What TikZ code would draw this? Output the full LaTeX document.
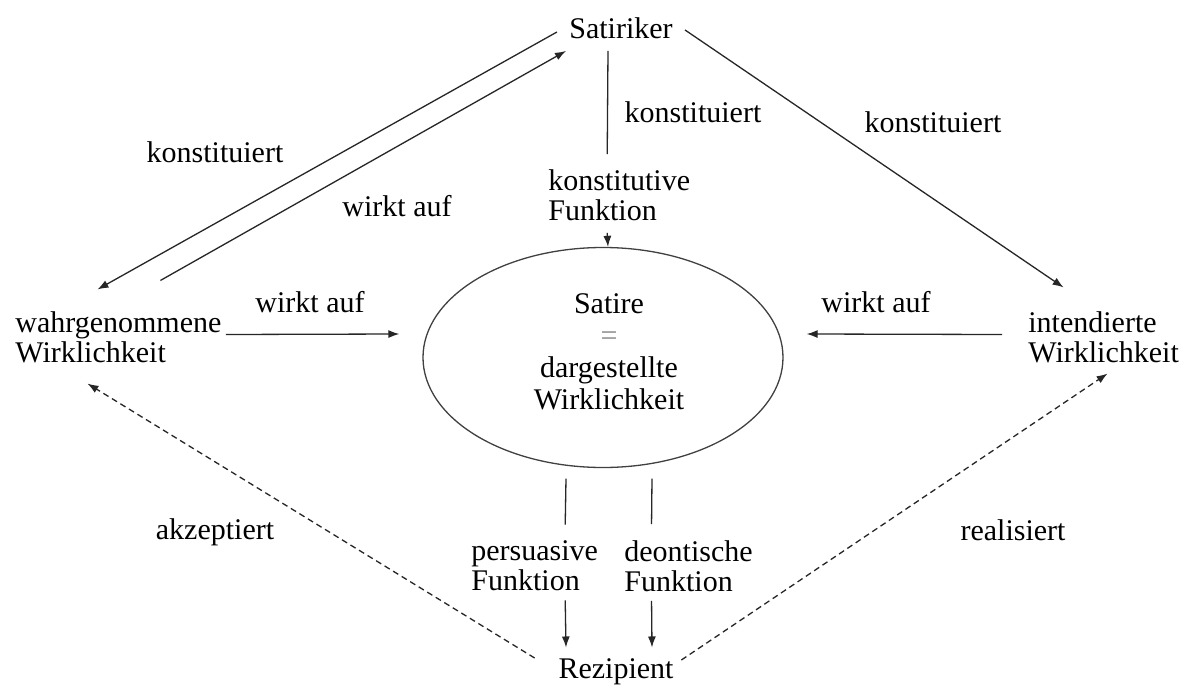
\documentclass[tikz,border=0pt]{standalone}
\usepackage{fontspec}
\setmainfont{Liberation Serif}
\usetikzlibrary{arrows.meta,shapes.geometric,calc}
\begin{document}
\begin{tikzpicture}[x=0.5pt,y=-0.5pt,
  txt/.style={inner sep=0pt, font=\fontsize{15}{15}\selectfont, text=black},
  multi/.style={txt, align=left, anchor=west},
  conn/.style={line width=0.65pt, draw=black!85},
  arr/.style={conn, -{Latex[length=5.5pt,width=4pt]}},
  dsh/.style={arr, dash pattern=on 3pt off 2pt},
  ell/.style={ellipse, draw=black!75, line width=0.65pt, minimum width=180pt, minimum height=110pt, inner sep=0pt}
]
\useasboundingbox[fill=white] (0,0) rectangle (1191,686);

% main nodes
\node[txt] (sat) at (621,28) {Satiriker};
\node[multi] (konfn) at (548,195) {konstitutive\\Funktion};
\node[multi] (wahr) at (15,337.5) {wahrgenommene\\Wirklichkeit};
\node[multi] (int) at (1028,337.5) {intendierte\\Wirklichkeit};
\node[ell] (ell) at (603,357.5) {};
\node[txt, align=center, font=\fontsize{15}{16}\selectfont] (satt) at (609,352) {Satire\\\textcolor{black!45}{=}\\dargestellte\\Wirklichkeit};
\node[multi] (pers) at (471,566) {persuasive\\Funktion};
\node[multi] (deon) at (624,566) {deontische\\Funktion};
\node[txt] (rez) at (616,672) {Rezipient};

% labels
\node[txt] (l1) at (215,152) {konstituiert};
\node[txt] (l2) at (397,206) {wirkt auf};
\node[txt] (l3) at (693,112) {konstituiert};
\node[txt] (l4) at (933,122) {konstituiert};
\node[txt] (l5) at (310,302) {wirkt auf};
\node[txt] (l6) at (876,302) {wirkt auf};
\node[txt] (l7) at (215,532) {akzeptiert};
\node[txt] (l8) at (1013,530) {realisiert};

% connectors
\draw[arr] ($(sat.west)+(-12,4)$) -- ($(wahr.north)+(-21,-22)$);
\draw[arr] ($(wahr.north)+(42,-31)$) -- ($(sat.south west)+(-3,12)$);
\draw[conn] ($(sat.south)+(-13,12)$) -- ($(konfn.north)+(-12,-15)$);
\draw[arr] ($(konfn.south)+(-12,12)$) -- ($(ell.north)+(5,0)$);
\draw[arr] ($(sat.east)+(12,2)$) -- ($(int.north)+(-40,-24)$);
\draw[arr] ($(wahr.east)+(4,-3)$) -- ($(ell.west)+(-23,-23.5)$);
\draw[arr] ($(int.west)+(-26,-3)$) -- ($(ell.east)+(23,-23.5)$);
\draw[conn] ($(ell.south)+(-37,10.5)$) -- ($(pers.north)+(30.5,-16)$);
\draw[arr] ($(pers.south)+(30.5,9)$) -- ($(rez.north)+(-50,-11)$);
\draw[conn] ($(ell.south)+(49,10.5)$) -- ($(deon.north)+(-37,-16)$);
\draw[arr] ($(deon.south)+(-37,9)$) -- ($(rez.north)+(36,-11)$);
\draw[dsh] ($(rez.west)+(-23.5,-14)$) -- ($(wahr.south)+(-31,20)$);
\draw[dsh] ($(rez.east)+(7.5,-12)$) -- ($(int.south)+(4,10)$);
\end{tikzpicture}
\end{document}
